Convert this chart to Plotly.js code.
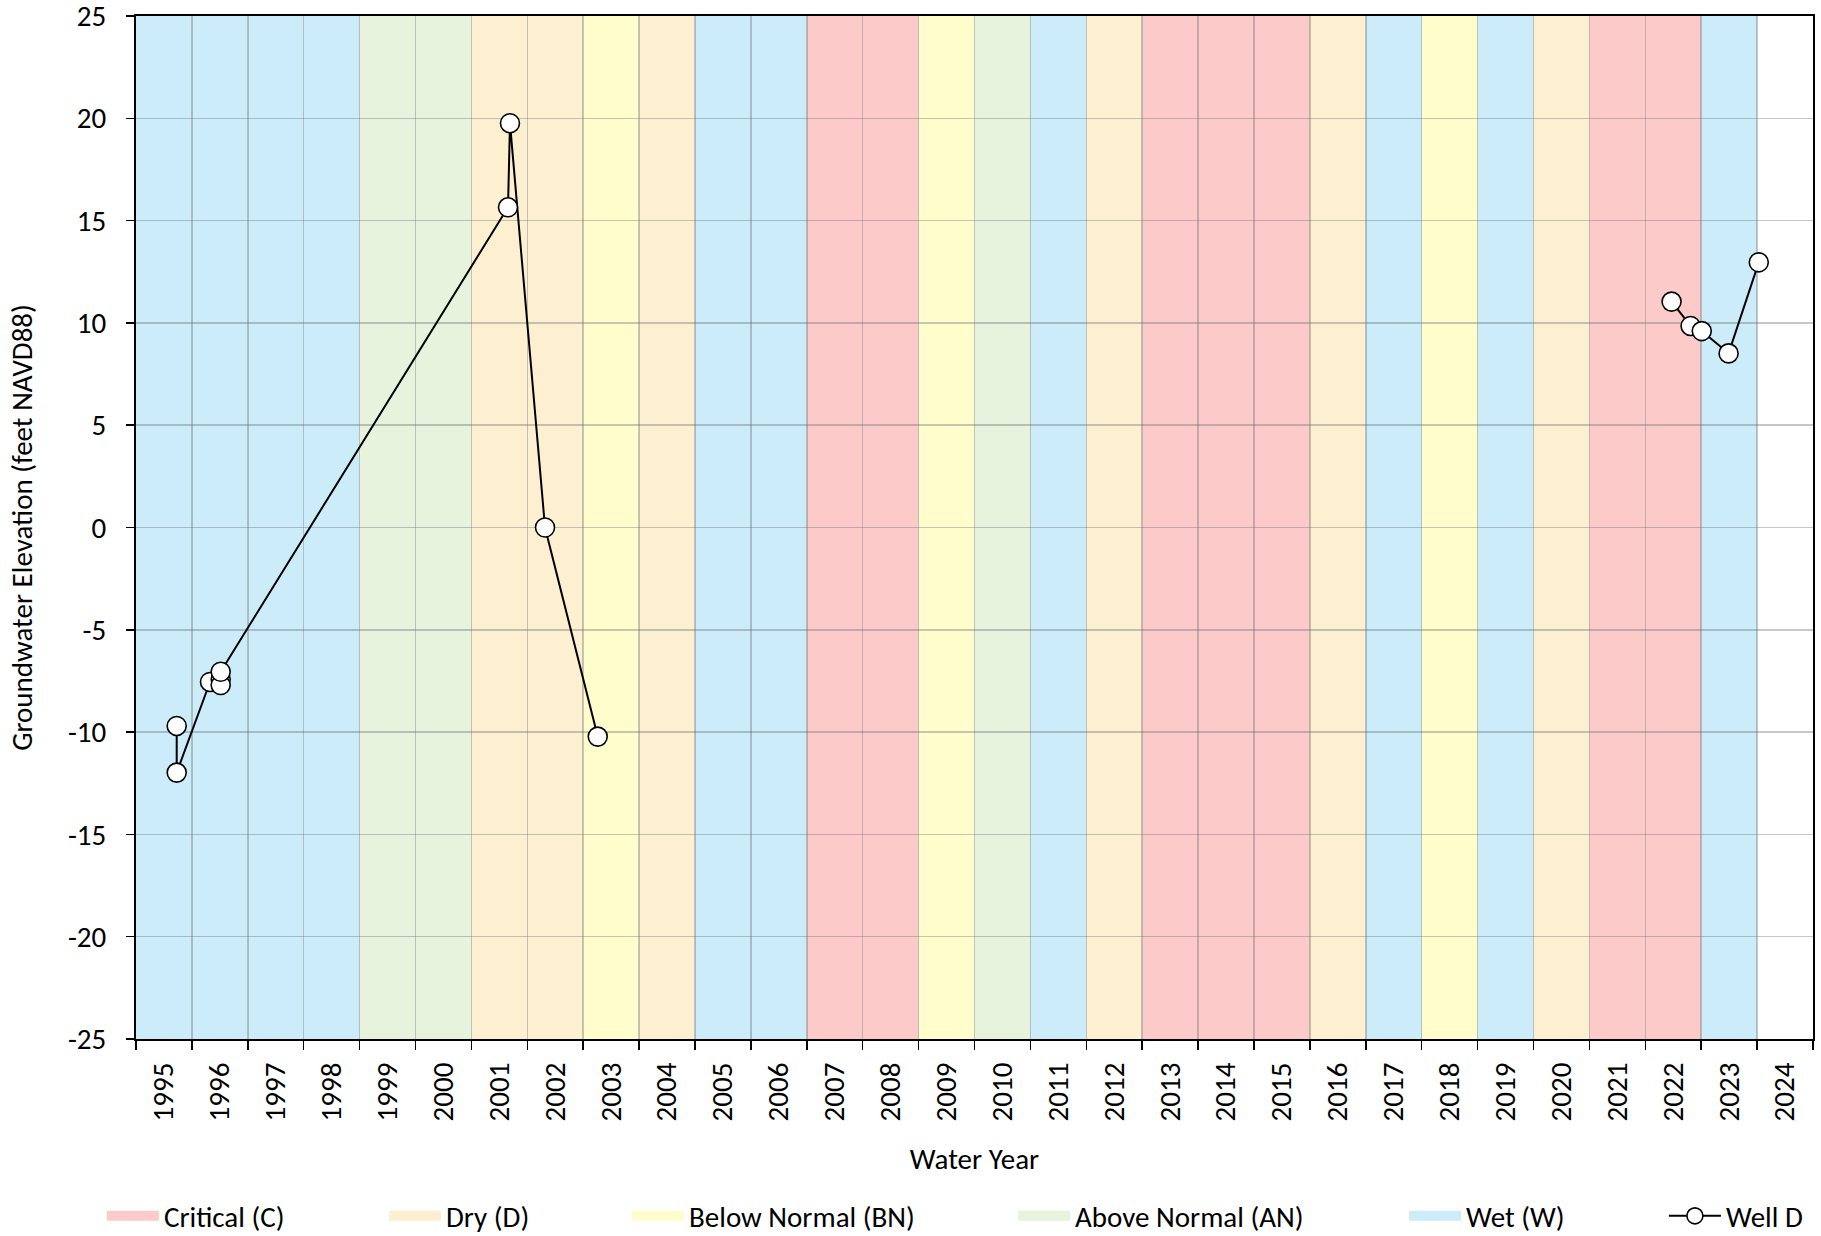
<!DOCTYPE html>
<html><head><meta charset="utf-8">
<script src="https://cdn.plot.ly/plotly-3.0.1.min.js"></script>
<style>html,body{margin:0;padding:0;background:#fff}#chart{width:1821px;height:1236px}</style>
</head><body><div id="chart"></div>
<script>
// Water years and their classification
const waterYears = [1995,1996,1997,1998,1999,2000,2001,2002,2003,2004,2005,2006,2007,2008,2009,2010,2011,2012,2013,2014,2015,2016,2017,2018,2019,2020,2021,2022,2023,2024];
const yearTypes  = ['W','W','W','W','AN','AN','D','D','BN','D','W','W','C','C','BN','AN','W','D','C','C','C','D','W','BN','W','D','C','C','W',''];
const typeCodes  = ['C','D','BN','AN','W'];
const typeNames  = ['Critical (C)','Dry (D)','Below Normal (BN)','Above Normal (AN)','Wet (W)'];
const typeColors = ['#FDCACA','#FDF0D0','#FFFDCB','#E7F3DC','#CBECF8'];
// Well D measurements (decimal calendar year, feet NAVD88); null = gap in record
const wellDates = [1995.478,1995.478,1996.074,1996.265,1996.265,1996.265,2001.405,2001.440,2002.067,2003.010,null,2022.220,2022.560,2022.760,2023.240,2023.780];
const wellElev  = [-9.70,-11.98,-7.55,-7.42,-7.70,-7.05,15.65,19.76,0.0,-10.22,null,11.04,9.85,9.60,8.51,12.96];
const yTicks = [-25,-20,-15,-10,-5,0,5,10,15,20,25];

const FONT = "Carlito, Calibri, 'Open Sans', sans-serif";
const FS = 29;
const WY_START_OFFSET = 0.25; // water year N starts Oct 1 of year N-1

// legend left positions (paper x) for each entry
const legendX = [-0.0203, 0.1479, 0.2928, 0.5230, 0.7561, 0.9111];
const legendNames = ['legend','legend2','legend3','legend4','legend5','legend6'];

const shapes = [];
waterYears.forEach((wy, i) => {
  const k = typeCodes.indexOf(yearTypes[i]);
  if (k < 0) return;
  shapes.push({
    type: 'rect', xref: 'x', yref: 'paper',
    x0: wy - WY_START_OFFSET, x1: wy - WY_START_OFFSET + 1, y0: 0, y1: 1,
    fillcolor: typeColors[k], line: {width: 0}, layer: 'below'
  });
});

// legend-only entries for the water-year classes
const traces = typeCodes.map((t, k) => ({
  type: 'scatter', mode: 'lines', x: [null], y: [null], name: typeNames[k],
  line: {color: typeColors[k], width: 17},
  legend: legendNames[k], showlegend: true, hoverinfo: 'skip'
}));

traces.push({
  type: 'scatter', mode: 'lines+markers', name: 'Well D',
  x: wellDates, y: wellElev, connectgaps: false,
  line: {color: '#000', width: 2},
  marker: {symbol: 'circle', size: 19, color: '#fff', line: {color: '#000', width: 1.6}},
  legend: 'legend6', showlegend: true
});

const gridColor = 'rgba(100,110,115,0.38)';
const layout = {
  width: 1821, height: 1236,
  margin: {l: 136, r: 8, t: 16, b: 197, autoexpand: false},
  paper_bgcolor: '#fff', plot_bgcolor: '#fff',
  font: {family: FONT, size: FS, color: '#000'},
  shapes: shapes,
  xaxis: {
    range: [waterYears[0] - WY_START_OFFSET, waterYears[waterYears.length - 1] + 1 - WY_START_OFFSET],
    tickmode: 'array',
    tickvals: waterYears.map(y => y + 0.5 - WY_START_OFFSET),
    ticktext: waterYears.map(String),
    tickangle: -90, ticks: '', showgrid: false, zeroline: false,
    showline: true, linecolor: '#000', linewidth: 2, mirror: true,
    ticklabelstandoff: 10, ticklabeloverflow: 'allow',
    minor: {tick0: waterYears[0] - WY_START_OFFSET, dtick: 1, ticks: 'outside', ticklen: 9, tickwidth: 1.5, tickcolor: '#000', showgrid: true, gridcolor: gridColor, gridwidth: 1.5},
    title: {text: 'Water Year', standoff: 28, font: {family: FONT, size: FS, color: '#000'}},
    automargin: false, fixedrange: true
  },
  yaxis: {
    range: [-25, 25], tickmode: 'array', tickvals: yTicks,
    ticktext: yTicks.map(v => String(v)),
    ticks: 'outside', ticklen: 8, tickwidth: 1.5, tickcolor: '#000',
    showgrid: true, gridcolor: gridColor, gridwidth: 1.5, zeroline: false,
    showline: true, linecolor: '#000', linewidth: 2, mirror: true,
    ticklabelstandoff: 14, ticklabeloverflow: 'allow',
    title: {text: 'Groundwater Elevation (feet NAVD88)', standoff: 27, font: {family: FONT, size: FS, color: '#000'}},
    automargin: false, fixedrange: true
  }
};
legendNames.forEach((ln, i) => {
  layout[ln] = {x: legendX[i], xanchor: 'left', y: -0.173, yanchor: 'middle', orientation: 'h',
    bgcolor: 'rgba(0,0,0,0)', borderwidth: 0, font: {family: FONT, size: FS, color: '#000'}, itemwidth: 52};
});

Plotly.newPlot('chart', traces, layout, {staticPlot: true, displayModeBar: false});
</script>
</body></html>
